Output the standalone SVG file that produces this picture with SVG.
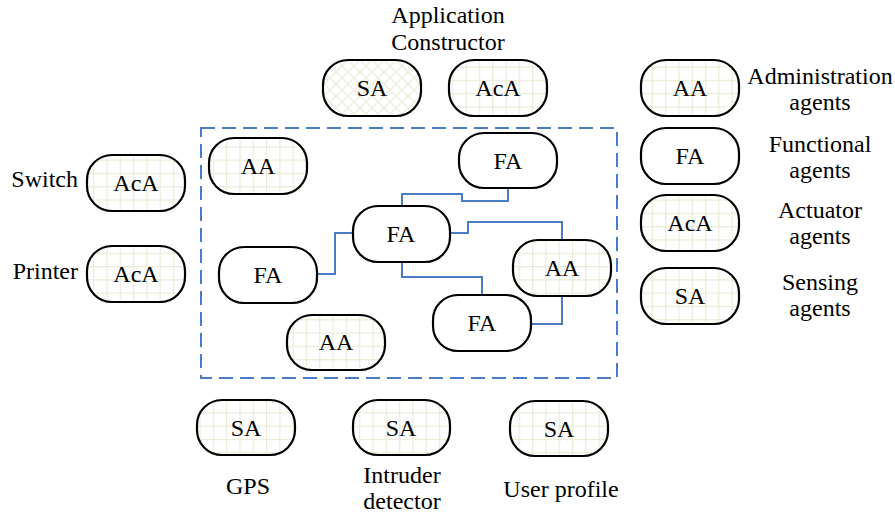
<svg xmlns="http://www.w3.org/2000/svg" width="895" height="517" viewBox="0 0 895 517">
<style>
text{font-family:"Liberation Serif","Times New Roman",serif;font-size:24px;fill:#000}
.c{text-anchor:middle}
.n{stroke:#000;stroke-width:2.2}
.g{fill:url(#grid)}
.d{fill:url(#diag)}
.w{fill:#fff}
.e{fill:none;stroke:#4a7cc4;stroke-width:2}
</style>
<defs>
<pattern id="grid" width="13.3" height="13.3" patternUnits="userSpaceOnUse">
<rect width="13.3" height="13.3" fill="#fff"/>
<path d="M0 0.5H13.3M0.5 0V13.3" stroke="#ecebd8" stroke-width="1.4"/>
</pattern>
<pattern id="diag" width="12" height="12" patternUnits="userSpaceOnUse">
<rect width="12" height="12" fill="#fff"/>
<path d="M0 0L12 12M12 0L0 12" stroke="#efeee0" stroke-width="1.3"/>
</pattern>
</defs>

<rect x="201" y="128" width="416" height="250" fill="none" stroke="#4a7cc4" stroke-width="2" stroke-dasharray="14 7"/>

<g id="connectors">
<path class="e" d="M317 274H335V233H353"/>
<path class="e" d="M402 206V194H462V201H508V188"/>
<path class="e" d="M450 233H468V222H562V240"/>
<path class="e" d="M402 262V277H482V295"/>
<path class="e" d="M562 296V324H531"/>
</g>

<g id="app-sa"><rect class="n d" x="323" y="60" width="98" height="56" rx="25"/><text class="c" x="372" y="96">SA</text></g>
<g id="app-aca"><rect class="n g" x="449" y="60" width="98" height="56" rx="25"/><text class="c" x="498" y="96">AcA</text></g>
<g id="app-label"><text class="c" x="448" y="23">Application</text><text class="c" x="448" y="50">Constructor</text></g>

<g id="leg-aa"><rect class="n g" x="641" y="60" width="98" height="56" rx="25"/><text class="c" x="690" y="96">AA</text><text class="c" x="820" y="84">Administration</text><text class="c" x="820" y="110">agents</text></g>
<g id="leg-fa"><rect class="n w" x="641" y="128" width="98" height="56" rx="25"/><text class="c" x="690" y="164">FA</text><text class="c" x="820" y="152">Functional</text><text class="c" x="820" y="178">agents</text></g>
<g id="leg-aca"><rect class="n g" x="641" y="195" width="98" height="56" rx="25"/><text class="c" x="690" y="231">AcA</text><text class="c" x="820" y="218">Actuator</text><text class="c" x="820" y="244">agents</text></g>
<g id="leg-sa"><rect class="n g" x="641" y="268" width="98" height="56" rx="25"/><text class="c" x="690" y="304">SA</text><text class="c" x="820" y="290">Sensing</text><text class="c" x="820" y="316">agents</text></g>

<g id="switch"><rect class="n g" x="87" y="155" width="98" height="56" rx="25"/><text class="c" x="136" y="191">AcA</text><text x="78" y="187" text-anchor="end">Switch</text></g>
<g id="printer"><rect class="n g" x="87" y="246" width="98" height="56" rx="25"/><text class="c" x="136" y="282">AcA</text><text x="78" y="279" text-anchor="end">Printer</text></g>

<g id="aa1"><rect class="n g" x="209" y="138" width="98" height="56" rx="25"/><text class="c" x="258" y="174">AA</text></g>
<g id="fa-top"><rect class="n w" x="459" y="133" width="98" height="55" rx="25"/><text class="c" x="508" y="169">FA</text></g>
<g id="fa-center"><rect class="n w" x="353" y="206" width="97" height="56" rx="25"/><text class="c" x="401" y="242">FA</text></g>
<g id="fa-left"><rect class="n w" x="219" y="247" width="98" height="56" rx="25"/><text class="c" x="268" y="283">FA</text></g>
<g id="aa-right"><rect class="n g" x="513" y="240" width="98" height="56" rx="25"/><text class="c" x="562" y="276">AA</text></g>
<g id="fa-bottom"><rect class="n w" x="433" y="295" width="98" height="56" rx="25"/><text class="c" x="482" y="331">FA</text></g>
<g id="aa-bottom"><rect class="n g" x="287" y="315" width="98" height="55" rx="25"/><text class="c" x="336" y="350">AA</text></g>

<g id="gps"><rect class="n g" x="197" y="400" width="98" height="55" rx="25"/><text class="c" x="246" y="436">SA</text><text class="c" x="248" y="494">GPS</text></g>
<g id="intruder"><rect class="n g" x="353" y="400" width="97" height="55" rx="25"/><text class="c" x="401" y="436">SA</text><text class="c" x="402" y="483">Intruder</text><text class="c" x="402" y="509">detector</text></g>
<g id="user"><rect class="n g" x="510" y="401" width="98" height="55" rx="25"/><text class="c" x="559" y="437">SA</text><text class="c" x="561" y="497">User profile</text></g>
</svg>
